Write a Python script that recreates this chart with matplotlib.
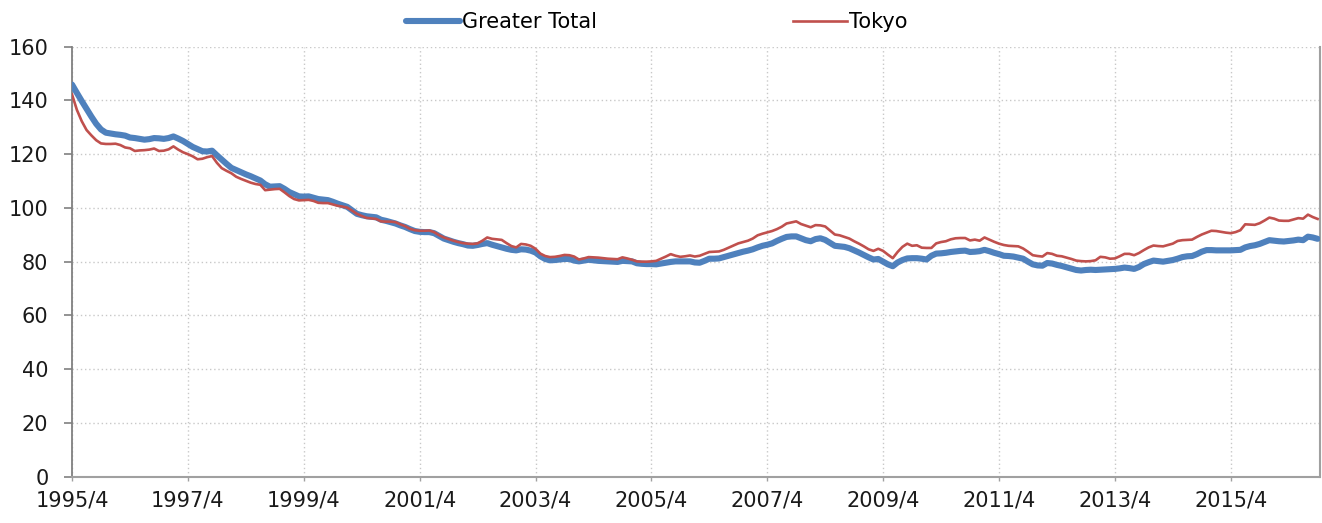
import numpy as np
import matplotlib
matplotlib.use("Agg")
import matplotlib.pyplot as plt

# monthly index values, 1995/4 .. 2016/10 (one row per fiscal year, April first)
greater_total = [
    145.9, 142.8, 139.8, 136.9, 134.0, 131.3, 129.2, 128.0, 127.7, 127.4, 127.2, 126.9,
    126.2, 126.0, 125.7, 125.4, 125.6, 126.0, 125.9, 125.7, 126.0, 126.6, 125.8, 124.9,
    123.8, 122.7, 121.9, 121.1, 121.0, 121.3, 119.6, 118.0, 116.4, 114.9, 114.1, 113.3,
    112.5, 111.8, 111.0, 110.2, 108.8, 107.9, 108.0, 108.1, 107.1, 105.9, 105.1, 104.3,
    104.2, 104.3, 103.8, 103.3, 103.1, 102.9, 102.3, 101.6, 101.0, 100.4, 99.1, 97.8,
    97.3, 96.9, 96.7, 96.5, 95.6, 95.2, 94.7, 94.2, 93.5, 92.9, 92.1, 91.4,
    91.1, 91.0, 91.0, 90.6, 89.6, 88.6, 88.0, 87.4, 86.9, 86.5, 86.0, 85.9,
    86.2, 86.6, 86.9, 86.3, 85.8, 85.3, 84.8, 84.4, 84.2, 84.6, 84.5, 84.1,
    83.4, 82.0, 81.0, 80.5, 80.6, 80.8, 81.0, 81.0, 80.4, 80.1, 80.4, 80.7,
    80.5, 80.3, 80.2, 80.1, 80.0, 79.9, 80.3, 80.2, 80.1, 79.4, 79.2, 79.1,
    79.1, 79.0, 79.3, 79.6, 79.9, 80.1, 80.1, 80.1, 80.1, 79.7, 79.6, 80.3,
    81.1, 81.1, 81.2, 81.7, 82.2, 82.7, 83.2, 83.7, 84.1, 84.6, 85.3, 85.9,
    86.3, 86.8, 87.7, 88.5, 89.2, 89.4, 89.4, 88.7, 88.0, 87.6, 88.4, 88.7,
    88.1, 87.0, 85.9, 85.7, 85.5, 85.0, 84.2, 83.4, 82.5, 81.6, 80.8, 81.0,
    80.0, 79.0, 78.3, 79.7, 80.6, 81.2, 81.3, 81.3, 81.1, 80.8, 82.2, 83.0,
    83.1, 83.3, 83.6, 83.8, 84.0, 84.1, 83.6, 83.7, 83.9, 84.4, 83.9, 83.3,
    82.8, 82.2, 82.1, 81.9, 81.5, 81.1, 80.0, 79.0, 78.6, 78.5, 79.5, 79.3,
    78.8, 78.4, 77.9, 77.4, 76.9, 76.7, 76.9, 77.0, 76.9, 77.0, 77.1, 77.2,
    77.3, 77.5, 77.8, 77.6, 77.3, 78.0, 79.1, 79.8, 80.4, 80.2, 80.0, 80.3,
    80.6, 81.1, 81.7, 82.0, 82.1, 82.8, 83.7, 84.3, 84.3, 84.2, 84.2, 84.2,
    84.2, 84.3, 84.4, 85.3, 85.8, 86.1, 86.6, 87.3, 88.0, 87.8, 87.6, 87.5,
    87.7, 87.9, 88.2, 88.0, 89.3, 89.0, 88.5,
]

tokyo = [
    142.2, 136.5, 132.3, 129.0, 127.0, 125.2, 124.0, 123.8, 123.8, 123.9, 123.4, 122.5,
    122.2, 121.2, 121.4, 121.5, 121.7, 122.1, 121.2, 121.3, 121.8, 122.9, 121.7, 120.7,
    120.0, 119.2, 118.1, 118.3, 118.9, 119.3, 116.8, 114.8, 113.8, 112.9, 111.6, 110.8,
    110.1, 109.4, 108.9, 108.6, 106.6, 106.8, 107.0, 107.1, 105.8, 104.4, 103.3, 102.8,
    102.9, 103.0, 102.6, 101.9, 101.8, 101.8, 101.3, 100.8, 100.5, 100.1, 99.0, 97.8,
    97.0, 96.3, 96.1, 95.9, 95.0, 94.9, 94.9, 94.7, 93.9, 93.2, 92.2, 91.7,
    91.5, 91.5, 91.6, 91.0, 89.9, 89.0, 88.4, 87.8, 87.3, 86.9, 86.7, 86.6,
    86.8, 87.8, 89.0, 88.5, 88.3, 88.1, 86.9, 85.8, 85.3, 86.6, 86.4, 85.9,
    84.8, 83.0, 82.1, 81.7, 81.8, 82.1, 82.5, 82.4, 81.9, 80.8, 81.2, 81.7,
    81.6, 81.5, 81.3, 81.1, 81.0, 80.9, 81.6, 81.2, 80.7, 80.1, 80.0, 80.0,
    80.1, 80.3, 81.1, 81.9, 82.8, 82.2, 81.8, 82.0, 82.3, 81.9, 82.2, 82.9,
    83.6, 83.7, 83.8, 84.4, 85.2, 86.0, 86.8, 87.3, 87.8, 88.6, 89.8, 90.4,
    90.9, 91.4, 92.1, 93.0, 94.2, 94.6, 95.0, 94.0, 93.4, 92.8, 93.6, 93.5,
    93.1, 91.6, 90.1, 89.8, 89.2, 88.6, 87.6, 86.7, 85.7, 84.6, 84.0, 84.8,
    84.0, 82.6, 81.3, 83.6, 85.5, 86.7, 85.9, 86.1, 85.2, 85.1, 85.1, 86.8,
    87.3, 87.6, 88.3, 88.7, 88.8, 88.8, 87.9, 88.2, 87.8, 89.0, 88.2, 87.4,
    86.7, 86.2, 85.9, 85.8, 85.7, 84.9, 83.7, 82.4, 82.1, 81.9, 83.2, 82.9,
    82.2, 82.0, 81.5, 81.0, 80.4, 80.2, 80.1, 80.2, 80.5, 81.8, 81.6, 81.1,
    81.2, 82.0, 82.9, 82.9, 82.4, 83.2, 84.3, 85.3, 86.0, 85.8, 85.7, 86.2,
    86.7, 87.7, 88.0, 88.1, 88.2, 89.2, 90.1, 90.8, 91.5, 91.4, 91.1, 90.8,
    90.6, 91.0, 91.7, 93.9, 93.8, 93.7, 94.3, 95.3, 96.4, 96.0, 95.3, 95.2,
    95.2, 95.7, 96.2, 96.0, 97.5, 96.6, 95.9,
]

tick_labels = ['1995/4', '1997/4', '1999/4', '2001/4', '2003/4', '2005/4',
               '2007/4', '2009/4', '2011/4', '2013/4', '2015/4']
y_ticks = [0, 20, 40, 60, 80, 100, 120, 140, 160]

BLUE = '#4F81BD'
RED = '#C0504D'
GRID = '#C8C8C8'

plt.rcParams['font.family'] = ['DejaVu Sans']

n = len(greater_total)
x = np.arange(n)

fig = plt.figure(figsize=(13.22, 5.23), dpi=100)
ax = fig.add_axes([0.0545, 0.0887, 0.944, 0.822])

ax.plot(x, greater_total, color=BLUE, lw=4.4, solid_capstyle='round',
        solid_joinstyle='round', label='Greater Total', zorder=3)
ax.plot(x, tokyo, color=RED, lw=1.9, solid_joinstyle='round',
        label='Tokyo', zorder=4)

ax.set_xlim(0, n - 0.5)
ax.set_ylim(0, 160)
ax.set_yticks(y_ticks)
ax.set_xticks(np.arange(0, n, 24))
ax.set_xticklabels(tick_labels)

ax.grid(True, color=GRID, linestyle=(0, (1, 2)), linewidth=1.0)
ax.set_axisbelow(True)

ax.spines['top'].set_visible(False)
ax.spines['left'].set_color('#808080')
ax.spines['left'].set_linewidth(1.3)
for side in ['bottom', 'right']:
    ax.spines[side].set_color('#A0A0A0')
    ax.spines[side].set_linestyle((0, (1, 1)))
    ax.spines[side].set_linewidth(1.5)

ax.tick_params(axis='y', direction='out', length=6, width=1.2, color='#808080',
               labelsize=15, pad=11, labelcolor='#1a1a1a')
ax.tick_params(axis='x', direction='out', length=3, width=1.0, color='#A0A0A0',
               labelsize=15, pad=7, labelcolor='#1a1a1a')

fig.legend(loc='upper center', bbox_to_anchor=(0.497, 1.012), ncol=2, frameon=False,
           fontsize=15, handlelength=2.6, handletextpad=0.1, columnspacing=9.4)

fig.savefig('out.png', dpi=100)
